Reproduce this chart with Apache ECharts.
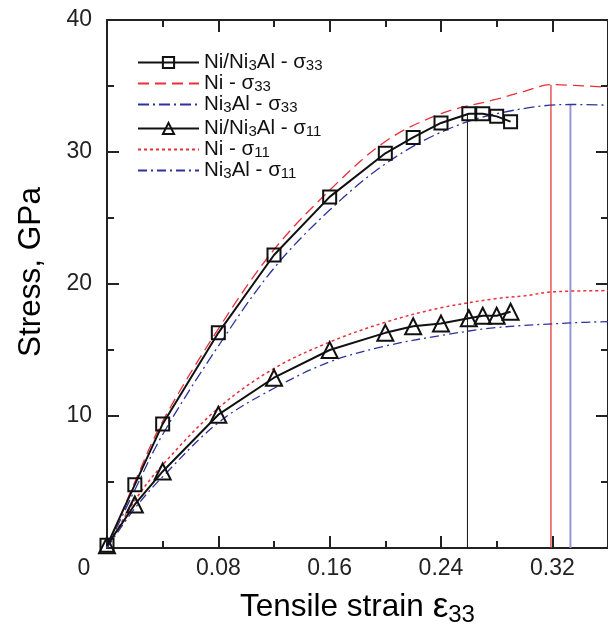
<!DOCTYPE html>
<html>
<head>
<meta charset="utf-8">
<script src="https://cdn.jsdelivr.net/npm/echarts@6/dist/echarts.min.js"></script>
<style>html,body{margin:0;padding:0;background:#fff}#c{width:608px;height:640px}</style>
</head>
<body>
<div id="c"></div>
<script>
// Experimental composite (markers)
const strainComposite = [0, 0.02, 0.04, 0.08, 0.12, 0.16, 0.20, 0.22, 0.24, 0.26, 0.27, 0.28, 0.29];
const compositeS33 = [0.2, 4.8, 9.4, 16.3, 22.2, 26.6, 29.9, 31.1, 32.2, 32.9, 32.9, 32.7, 32.3];
const compositeS11 = [0.2, 3.3, 5.8, 10.1, 12.9, 15.0, 16.3, 16.8, 17.0, 17.4, 17.6, 17.6, 17.9];

// Ni curves
const strainNi = [0, 0.02, 0.04, 0.08, 0.12, 0.16, 0.20, 0.24, 0.28, 0.30, 0.319, 0.36];
const niS33 = [0, 5.0, 9.6, 16.6, 22.6, 27.1, 30.8, 32.9, 34.0, 34.6, 35.1, 34.9];
const niS11 = [0, 3.6, 6.3, 10.6, 13.6, 15.6, 17.1, 18.2, 18.9, 19.1, 19.4, 19.5];

// Ni3Al curves
const strainNi3Al = [0, 0.02, 0.04, 0.08, 0.12, 0.16, 0.20, 0.24, 0.28, 0.333, 0.36];
const ni3alS33 = [0, 4.4, 8.6, 15.3, 21.2, 25.6, 29.1, 31.5, 32.9, 33.6, 33.55];
const ni3alS11 = [0, 3.0, 5.4, 9.5, 12.1, 14.1, 15.3, 16.1, 16.7, 17.05, 17.15];

// failure drop lines
const dropStrain = [0.259, 0.319, 0.333];
const dropStress = [32.9, 35.1, 33.6];

const xTicks = [0, 0.08, 0.16, 0.24, 0.32];
const yTicks = [0, 10, 20, 30, 40];

const names = ['Ni/Ni3Al - σ33', 'Ni - σ33', 'Ni3Al - σ33', 'Ni/Ni3Al - σ11', 'Ni - σ11', 'Ni3Al - σ11'];
const hasMarker = [true, false, false, true, false, false];

const zip = (xs, ys) => xs.map((x, i) => [x, ys[i]]);
const FONT = 'Liberation Sans, Arial, sans-serif';
const AX = '#222';

const chart = echarts.init(document.getElementById('c'), null, {renderer: 'canvas'});

function axisCommon() {
  return {
    axisLine: {onZero: false, lineStyle: {color: AX, width: 2}},
    axisTick: {inside: true, length: 12, lineStyle: {color: AX, width: 2}},
    minorTick: {show: true, splitNumber: 2, length: 7, lineStyle: {color: AX, width: 2}},
    splitLine: {show: false}
  };
}

const legendRich = {
  sub: {fontSize: 15, fontFamily: FONT, color: '#111', lineHeight: 14, padding: [6, 0, 0, 0]}
};
const legendFmt = n => n.replace(/(\d+)/g, '{sub|$1}');
const legendItems = idx => idx.map(i => hasMarker[i]
  ? {name: names[i]}
  : {name: names[i], itemStyle: {opacity: 0, color: 'rgba(0,0,0,0)', borderWidth: 0}});

const drops = dropStrain.map((x, i) => ({
  type: 'line', name: 'drop' + i, symbol: 'none', silent: true,
  data: [[x, 0], [x, dropStress[i]]],
  lineStyle: {color: ['#111', '#e42a2a', '#9499d4'][i], width: [1, 1.2, 2][i]},
  z: 1
}));

function legendCfg(top, idx) {
  return {
    orient: 'vertical', left: 132, top: top, itemWidth: 61, itemHeight: 14, itemGap: 0,
    data: legendItems(idx),
    textStyle: {fontSize: 20.5, lineHeight: 20, fontFamily: FONT, color: '#111', rich: legendRich},
    formatter: legendFmt
  };
}

const option = {
  animation: false,
  backgroundColor: '#fff',
  grid: {left: 107, top: 20, width: 510, height: 528},
  legend: [legendCfg(47, [0, 1, 2]), legendCfg(113, [3, 4, 5])],
  xAxis: [Object.assign(axisCommon(), {
    type: 'value', min: 0, max: 0.36, interval: 0.08, position: 'bottom',
    axisLabel: {
      fontSize: 23, fontFamily: FONT, color: AX, margin: 9, showMaxLabel: false,
      formatter: v => (Math.abs(v) < 1e-9 ? '{z|0}' : (xTicks.some(t => Math.abs(t - v) < 1e-9) ? v.toFixed(2) : '')),
      rich: {z: {fontSize: 23, fontFamily: FONT, color: AX, padding: [0, 46, 0, 0]}}
    },
    name: 'Tensile strain {e|ε}{s|33}',
    nameLocation: 'middle', nameGap: 40,
    nameTextStyle: {
      fontSize: 31.5, fontFamily: FONT, color: '#000',
      rich: {
        e: {fontSize: 35, fontFamily: FONT, color: '#000'},
        s: {fontSize: 24, fontFamily: FONT, color: '#000', padding: [15, 0, 0, 0]}
      }
    }
  }), Object.assign(axisCommon(), {
    type: 'value', min: 0, max: 0.36, interval: 0.08, position: 'top',
    axisLabel: {show: false}
  })],
  yAxis: [Object.assign(axisCommon(), {
    type: 'value', min: 0, max: 40, interval: 10, position: 'left',
    axisLabel: {
      fontSize: 23, fontFamily: FONT, color: AX, margin: 15,
      formatter: v => (v === 0 ? '' : (yTicks.indexOf(v) >= 0 ? String(v) : ''))
    },
    name: 'Stress, GPa', nameLocation: 'middle', nameGap: 60,
    nameTextStyle: {fontSize: 31.5, fontFamily: FONT, color: '#000', padding: [0, 0, 0, 24]}
  }), Object.assign(axisCommon(), {
    type: 'value', min: 0, max: 40, interval: 10, position: 'right',
    axisLabel: {show: false}
  })],
  series: [
    ...drops,
    {
      type: 'line', name: names[1], data: zip(strainNi, niS33), symbol: 'none', smooth: 0.35,
      lineStyle: {color: '#e8303a', width: 1.3, type: [11, 6]}, itemStyle: {color: '#e8303a', opacity: 0}, z: 2
    },
    {
      type: 'line', name: names[2], data: zip(strainNi3Al, ni3alS33), symbol: 'none', smooth: 0.35,
      lineStyle: {color: '#2e339b', width: 1.3, type: [11, 4, 2, 4]}, itemStyle: {color: '#2e339b', opacity: 0}, z: 2
    },
    {
      type: 'line', name: names[4], data: zip(strainNi, niS11), symbol: 'none', smooth: 0.35,
      lineStyle: {color: '#e8303a', width: 1.5, type: [3, 3]}, itemStyle: {color: '#e8303a', opacity: 0}, z: 2
    },
    {
      type: 'line', name: names[5], data: zip(strainNi3Al, ni3alS11), symbol: 'none', smooth: 0.35,
      lineStyle: {color: '#2e339b', width: 1.3, type: [9, 4, 2, 4]}, itemStyle: {color: '#2e339b', opacity: 0}, z: 2
    },
    {
      type: 'line', name: names[0], data: zip(strainComposite, compositeS33),
      symbol: 'rect', symbolSize: 13, showAllSymbol: true,
      lineStyle: {color: '#111', width: 2},
      itemStyle: {color: 'rgba(255,255,255,0)', borderColor: '#111', borderWidth: 2}, z: 5
    },
    {
      type: 'line', name: names[3], data: zip(strainComposite, compositeS11),
      symbol: 'triangle', symbolSize: 16, showAllSymbol: true,
      lineStyle: {color: '#111', width: 2},
      itemStyle: {color: 'rgba(255,255,255,0)', borderColor: '#111', borderWidth: 2}, z: 5
    }
  ]
};
chart.setOption(option);
</script>
</body>
</html>
